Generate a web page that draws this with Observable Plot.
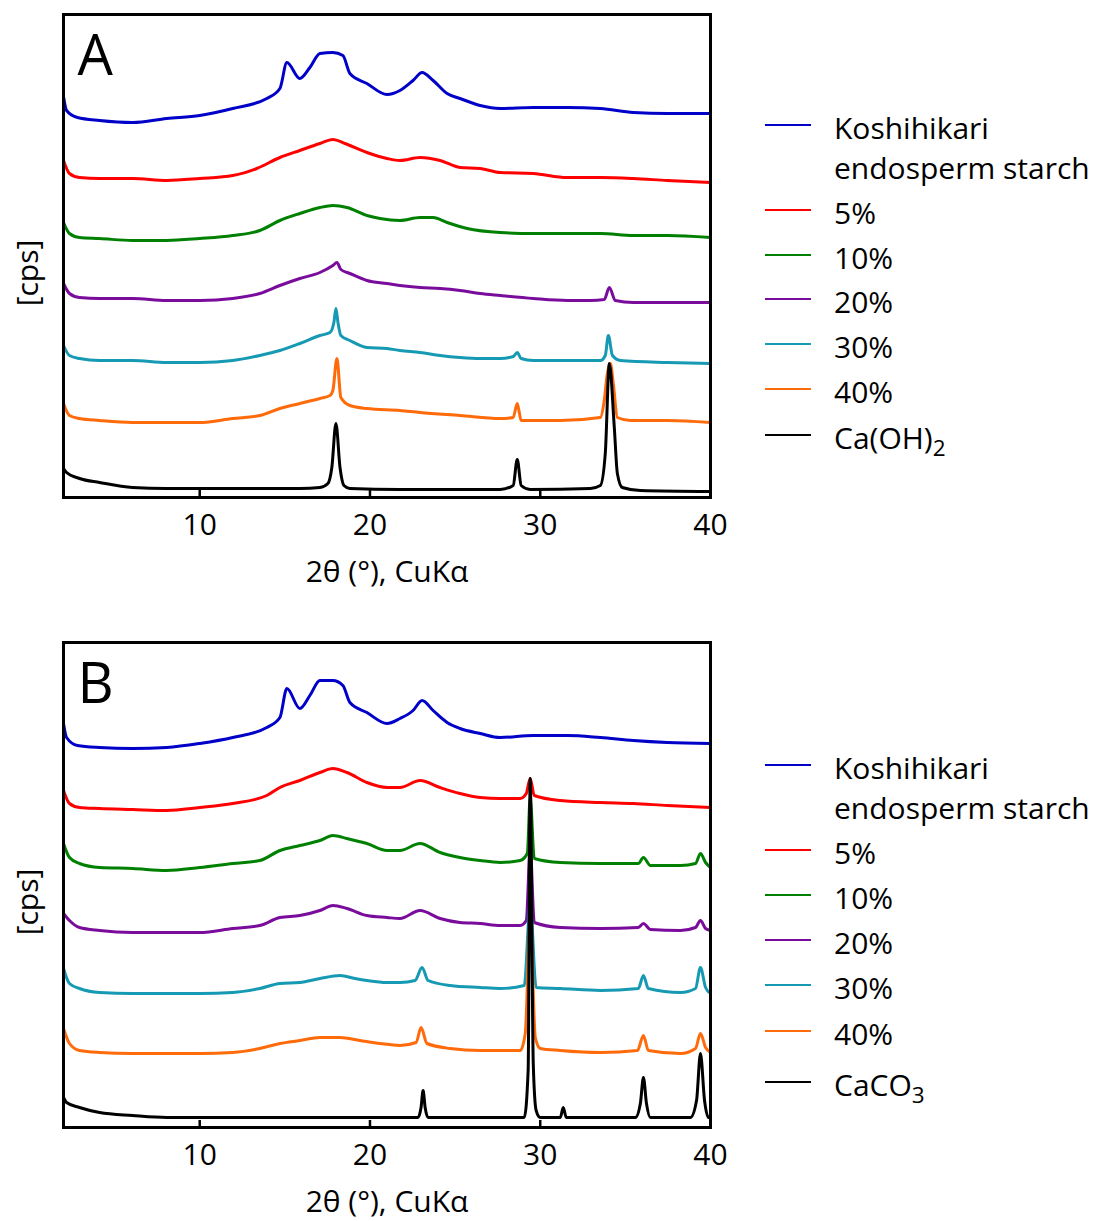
<!DOCTYPE html>
<html><head><meta charset="utf-8">
<script src="https://cdn.jsdelivr.net/npm/d3@7"></script>
<script src="https://cdn.jsdelivr.net/npm/@observablehq/plot@0.6"></script>
<style>
body{margin:0;background:#fff;font-family:"Open Sans",sans-serif;}
#root{position:relative;width:1093px;height:1221px;overflow:hidden;background:#fff;}
.panel{position:absolute;left:0;}
.sw{position:absolute;left:765px;width:46px;height:0;border-top:2px solid;}
.tx{position:absolute;left:834px;white-space:nowrap;font-size:30px;line-height:40px;color:#000;}
.tx sub{font-size:0.75em;vertical-align:-0.3em;line-height:0;}
</style></head><body><div id="root"></div>
<script>
// ---- Labels ----
const xTicks = [10, 20, 30, 40];
const xLabel = "2θ (°), CuKα";
const yLabel = "[cps]";
const seriesNames = ["Koshihikari endosperm starch", "5%", "10%", "20%", "30%", "40%"];
const refNameA = "Ca(OH)2";
const refNameB = "CaCO3";
const seriesColors = ["#0000c8", "#ff0000", "#008000", "#7a0c9c", "#1699b3", "#ff6a0a", "#000000"];

// ---- Panel A : [2θ, intensity (a.u.)] ----
const aKoshihikari = [[2.00,401],[2.18,387],[2.82,380],[4.12,377],[6.06,375],[8.06,379],[10.00,382],[11.94,389],[13.94,399],[14.71,409],[15.12,435],[15.88,419],[16.47,430],[17.06,444],[17.82,445],[18.41,442],[18.82,424],[19.82,414],[21.00,403],[21.76,407],[22.53,417],[23.06,425],[23.71,417],[24.53,404],[25.29,399],[26.47,392],[27.65,389],[29.59,390],[31.59,390],[33.53,389],[35.47,385],[37.47,384],[40.00,384]];
const a5 = [[2.00,337],[2.35,324],[2.94,320],[4.12,319],[6.06,319],[8.06,317],[10.00,319],[11.94,322],[13.35,329],[14.71,340],[15.88,347],[17.06,354],[17.82,358],[18.53,354],[19.82,345],[21.00,339],[21.76,337],[22.94,340],[24.12,337],[25.29,330],[26.47,329],[27.65,325],[29.59,324],[31.59,320],[33.53,320],[35.47,319],[37.47,317],[40.00,315]];
const a10 = [[2.00,275],[2.35,264],[2.94,260],[4.12,259],[6.06,257],[8.06,257],[10.00,259],[11.94,262],[13.53,267],[14.71,277],[15.88,284],[17.06,290],[17.82,292],[18.65,290],[19.82,282],[20.59,279],[21.76,277],[22.94,280],[23.71,280],[24.53,275],[25.71,269],[27.65,265],[29.59,264],[31.59,264],[33.53,264],[35.47,262],[37.47,262],[40.00,260]];
const a20 = [[2.00,214],[2.35,204],[2.94,200],[4.12,199],[6.06,199],[8.06,197],[10.00,197],[11.94,199],[13.53,204],[14.71,212],[15.88,219],[17.06,225],[17.82,232],[18.06,235],[18.29,228],[18.82,224],[19.82,217],[21.00,214],[21.76,212],[22.94,210],[24.12,209],[25.29,207],[26.47,204],[27.65,202],[29.59,199],[31.59,197],[32.94,197],[33.76,198],[34.06,210],[34.41,197],[35.47,195],[37.47,195],[40.00,195]];
const a30 = [[2.00,152],[2.35,142],[2.94,139],[4.12,137],[6.06,137],[8.06,135],[10.00,135],[11.94,137],[13.53,142],[14.71,147],[15.88,154],[17.06,162],[17.65,165],[17.88,175],[18.00,189],[18.12,175],[18.29,162],[18.82,157],[19.82,150],[21.00,149],[21.76,147],[22.94,145],[24.12,142],[25.29,140],[26.47,139],[27.65,139],[28.41,141],[28.65,145],[28.88,139],[29.59,137],[31.59,137],[33.53,137],[33.82,142],[34.00,162],[34.24,142],[34.71,137],[37.47,135],[40.00,134]];
const a40 = [[2.00,94],[2.35,82],[2.94,79],[4.12,77],[6.06,75],[8.06,75],[10.00,75],[11.94,79],[13.53,82],[14.71,89],[15.88,94],[17.06,99],[17.65,102],[17.82,107],[18.06,139],[18.29,100],[18.82,92],[19.82,89],[21.76,87],[22.94,85],[25.29,82],[27.65,79],[28.41,80],[28.65,94],[28.88,77],[31.18,77],[33.53,80],[33.76,97],[33.94,124],[34.12,134],[34.29,114],[34.53,80],[35.29,77],[37.47,77],[40.00,75]];
const aCaOH2 = [[2.00,29],[2.18,25],[2.94,19],[4.12,15],[6.06,10],[8.06,9],[10.00,9],[13.53,9],[15.88,9],[17.06,10],[17.53,14],[17.76,30],[18.00,74],[18.24,30],[18.47,12],[18.82,9],[21.76,8],[27.65,8],[28.41,12],[28.65,38],[28.88,12],[29.41,8],[32.94,9],[33.53,12],[33.82,44],[34.06,134],[34.35,70],[34.53,24],[34.82,10],[35.88,7],[40.00,6]];

// ---- Panel B : [2θ, intensity (a.u.)] ----
const bKoshihikari = [[2.00,404],[2.18,390],[2.82,382],[4.12,380],[6.06,379],[8.06,380],[10.00,384],[11.94,390],[13.94,400],[14.71,410],[15.12,439],[15.88,419],[16.47,432],[17.06,447],[17.82,447],[18.41,442],[18.82,425],[19.82,415],[21.00,404],[21.76,409],[22.53,417],[23.06,427],[23.71,417],[24.53,405],[25.29,399],[26.47,394],[27.65,390],[29.59,392],[31.59,392],[33.53,390],[35.47,387],[37.47,385],[40.00,384]];
const b5 = [[2.00,337],[2.35,324],[2.94,320],[4.12,319],[6.06,318],[8.06,317],[10.00,320],[11.94,324],[13.94,332],[14.71,340],[15.88,347],[17.06,355],[17.82,359],[18.65,355],[19.82,345],[21.00,340],[21.76,340],[22.94,347],[24.12,340],[25.29,334],[26.47,330],[27.65,329],[28.82,329],[29.18,334],[29.41,349],[29.65,332],[31.18,327],[33.53,325],[35.47,324],[37.47,322],[40.00,320]];
const b10 = [[2.00,284],[2.35,270],[2.94,264],[4.12,260],[6.06,259],[8.06,257],[10.00,260],[11.94,264],[13.53,267],[14.71,277],[15.88,282],[17.06,287],[17.82,292],[18.65,289],[19.82,284],[21.00,277],[21.76,277],[22.94,284],[24.12,275],[25.29,270],[26.47,267],[27.65,265],[28.82,267],[29.24,274],[29.41,330],[29.65,269],[31.18,265],[33.53,264],[35.76,264],[36.06,270],[36.47,262],[38.24,262],[39.12,264],[39.41,274],[39.71,265],[40.00,260]];
const b20 = [[2.00,214],[2.35,207],[2.94,200],[4.12,197],[6.06,195],[8.06,195],[10.00,195],[11.94,199],[13.53,202],[14.71,210],[15.88,212],[17.06,217],[17.82,222],[18.65,219],[19.82,212],[21.00,210],[21.76,209],[22.94,217],[24.12,209],[25.29,205],[26.47,204],[27.65,202],[28.82,202],[29.18,207],[29.41,280],[29.65,205],[31.18,200],[33.53,199],[35.76,200],[36.06,204],[36.47,198],[38.24,197],[39.12,200],[39.41,207],[39.71,199],[40.00,197]];
const b30 = [[2.00,159],[2.35,144],[2.94,139],[4.12,135],[6.06,134],[8.06,134],[10.00,134],[11.94,135],[13.53,139],[14.71,144],[15.88,145],[17.06,149],[18.24,152],[19.12,149],[19.82,147],[21.00,145],[21.76,145],[22.65,147],[23.06,160],[23.41,147],[24.71,142],[26.47,140],[27.65,139],[29.06,142],[29.41,224],[29.76,140],[31.18,139],[33.53,137],[35.76,139],[36.06,152],[36.35,139],[38.24,135],[39.12,139],[39.41,160],[39.71,140],[40.00,134]];
const b40 = [[2.00,99],[2.35,84],[2.94,77],[4.12,75],[6.06,74],[8.06,74],[10.00,74],[11.94,75],[13.53,79],[14.71,84],[15.88,87],[17.06,90],[18.24,90],[19.41,87],[20.59,84],[21.76,82],[22.71,85],[23.00,100],[23.35,84],[24.71,79],[26.47,77],[28.82,77],[29.12,94],[29.41,207],[29.71,90],[30.00,79],[31.18,77],[33.53,75],[35.71,77],[36.06,92],[36.35,77],[38.24,74],[39.12,79],[39.41,94],[39.71,80],[40.00,75]];
const bCaCO3 = [[2.00,30],[2.18,25],[2.94,20],[4.12,15],[6.06,12],[8.06,10],[10.00,10],[15.88,10],[21.76,10],[22.82,10],[23.00,20],[23.12,37],[23.24,20],[23.41,10],[29.06,10],[29.29,57],[29.41,349],[29.59,64],[29.76,17],[30.00,10],[31.18,10],[31.35,20],[31.53,10],[35.59,10],[35.88,24],[36.06,50],[36.24,24],[36.47,10],[38.82,10],[39.18,27],[39.41,74],[39.65,27],[39.88,10],[40.00,10]];

const root = document.getElementById("root");
const FONT = '"Open Sans", sans-serif';

function panel(seriesList, letter, top, innerH) {
  const mT = 14, mB = 113, W = 740;
  const chart = Plot.plot({
    width: W, height: innerH + mT + mB,
    marginLeft: 63, marginRight: 30, marginTop: mT, marginBottom: mB,
    style: {fontFamily: FONT, background: "transparent", overflow: "visible", color: "#000"},
    x: {domain: [2, 40]},
    y: {domain: [0, innerH], axis: null},
    marks: [
      ...seriesList.map((vals, i) => Plot.line(vals, {x: d => d[0], y: d => d[1], stroke: seriesColors[i], strokeWidth: 3, curve: "monotone-x"})),
      Plot.tickX(xTicks, {x: d => d, insetTop: innerH - 7, strokeWidth: 2.5}),
      Plot.axisX({ticks: xTicks, tickSize: 0, tickPadding: 16, fontSize: 30, label: null}),
      Plot.frame({strokeWidth: 3}),
      Plot.text([letter], {frameAnchor: "top-left", dx: 14, dy: 21, fontSize: 56, textAnchor: "start", lineAnchor: "top"}),
      Plot.text([xLabel], {frameAnchor: "bottom", dy: 84, fontSize: 30, textAnchor: "middle"}),
      Plot.text([yLabel], {frameAnchor: "left", dx: -35, dy: 17, rotate: -90, fontSize: 30, textAnchor: "middle"})
    ]
  });
  chart.classList.add("panel");
  chart.style.top = top + "px";
  root.appendChild(chart);
}

function legend(refName, ys) {
  const names = [...seriesNames, refName];
  names.forEach((name, i) => {
    const sw = document.createElement("div");
    sw.className = "sw";
    sw.style.borderColor = seriesColors[i];
    sw.style.top = (ys[i] - 1) + "px";
    root.appendChild(sw);
    const tx = document.createElement("div");
    tx.className = "tx";
    tx.style.top = (ys[i] - 17) + "px";
    if (i === 0) {
      tx.innerHTML = "Koshihikari<br>endosperm starch";
    } else if (/[A-Za-z]/.test(name)) {
      tx.innerHTML = name.replace(/(\d)$/, "<sub>$1</sub>");
    } else {
      tx.textContent = name;
    }
    root.appendChild(tx);
  });
}

panel([aKoshihikari, a5, a10, a20, a30, a40, aCaOH2], "A", 0, 483);
panel([bKoshihikari, b5, b10, b20, b30, b40, bCaCO3], "B", 628, 485);
legend(refNameA, [125, 210, 255, 299, 344, 389, 435]);
legend(refNameB, [765, 850, 895, 940, 985, 1031, 1082]);
</script></body></html>
